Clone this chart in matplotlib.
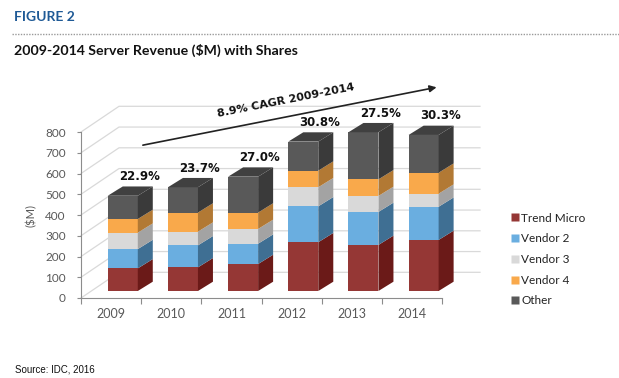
import matplotlib
matplotlib.use("Agg")
import matplotlib.pyplot as plt
from matplotlib.patches import Polygon, Rectangle
from matplotlib.lines import Line2D

# === datos ===
years = ['2009', '2010', '2011', '2012', '2013', '2014']
trend_micro = [109, 114, 130, 235, 222, 246]
vendor2 = [93, 106, 98, 173, 159, 160]
vendor3 = [79, 66, 71, 92, 77, 63]
vendor4 = [66, 92, 79, 80, 80, 101]
other = [112, 122, 173, 140, 227, 182]
shares = ['22.9%', '23.7%', '27.0%', '30.8%', '27.5%', '30.3%']
cagr_label = '8.9% CAGR 2009-2014'
yticks = [0, 100, 200, 300, 400, 500, 600, 700, 800]

series = [
    ('Trend Micro', trend_micro, '#953735', '#6b1a18'),
    ('Vendor 2', vendor2, '#6aaee0', '#3f6f93'),
    ('Vendor 3', vendor3, '#d9d9d9', '#a3a3a3'),
    ('Vendor 4', vendor4, '#f9a94b', '#b27934'),
    ('Other', other, '#595959', '#3a3a3a'),
]

W, H = 619, 378
fig = plt.figure(figsize=(W / 100, H / 100), dpi=100)

# ejes: 0 en y=298px, 800 en y=132px, x de 81px a 442px
ax = fig.add_axes([81 / W, 1 - 298 / H, (442 - 81) / W, 166 / H])
ax.set_xlim(-0.5, 5.5)
ax.set_ylim(0, 800)

px_x = 6 / 361      # unidades de categoria por pixel
px_y = 800 / 166    # $M por pixel

# paredes / grid en perspectiva
wall_dx, wall_dy = 38 * px_x, 25.7 * px_y
right_x = -0.5 + (480 - 81) * px_x
for t in yticks:
    ax.plot([-0.5, -0.5 + wall_dx, right_x], [t, t + wall_dy, t + wall_dy],
            color='#d9d9d9', lw=0.9, clip_on=False, zorder=0)

# barras 3D
base = 7 * px_y
off = 11.7 * px_x
bw = 30 * px_x
ddx, ddy = 15 * px_x, 9.3 * px_y
for i in range(len(years)):
    x0 = i + off - bw / 2
    x1 = x0 + bw
    bottom = base
    for name, vals, c_front, c_side in series:
        top = bottom + vals[i]
        ax.add_patch(Rectangle((x0, bottom), bw, vals[i], facecolor=c_front,
                               edgecolor='none', zorder=3, clip_on=False))
        ax.add_patch(Polygon([(x1, bottom), (x1 + ddx, bottom + ddy),
                              (x1 + ddx, top + ddy), (x1, top)],
                             facecolor=c_side, edgecolor='none', zorder=3, clip_on=False))
        bottom = top
    ax.add_patch(Polygon([(x0, bottom), (x1, bottom), (x1 + ddx, bottom + ddy),
                          (x0 + ddx, bottom + ddy)],
                         facecolor='#404040', edgecolor='none', zorder=3, clip_on=False))
    ax.text(i + 28.5 * px_x, bottom + 19 * px_y, shares[i], ha='center', va='center',
            fontsize=8.5, fontweight='bold', color='#111111', clip_on=False)

# flecha CAGR
ax.annotate('', xy=(5.455, 1018), xytext=(0.483, 734),
            arrowprops=dict(arrowstyle='-|>', color='#222222', lw=1.2,
                            mutation_scale=10), annotation_clip=False)
ax.text(2.9, 954, cagr_label, rotation=11.2, ha='center', va='center',
        fontsize=8, fontweight='bold', color='#111111', rotation_mode='anchor')

# ejes
for s in ['top', 'right']:
    ax.spines[s].set_visible(False)
ax.spines['left'].set_color('#8c8c8c')
ax.spines['bottom'].set_color('#8c8c8c')
ax.set_yticks(yticks)
ax.set_yticklabels([str(t) for t in yticks], fontsize=8.5, color='#595959', family='Lato')
ax.tick_params(axis='y', length=3, color='#8c8c8c', pad=8)
ax.set_xticks([i - 0.5 for i in range(len(years) + 1)], minor=False)
ax.set_xticklabels([])
ax.tick_params(axis='x', length=4, color='#8c8c8c')
for i, y in enumerate(years):
    ax.text(i, -75, y, ha='center', va='center', fontsize=9, color='#595959',
            family='Lato', clip_on=False)
ax.patch.set_visible(False)

fig.text(31 / W, 1 - 215 / H, '($M)', rotation=90, ha='center', va='center',
         fontsize=8, color='#595959', family='Lato')

# leyenda
handles = [Line2D([], [], marker='s', linestyle='none', markersize=6,
                  markerfacecolor=c, markeredgecolor='none') for _, _, c, _ in series]
fig.legend(handles, [s[0] for s in series], loc='upper left',
           bbox_to_anchor=(500 / W, 1 - 202 / H), frameon=False,
           prop={'family': 'Lato', 'size': 8.5}, labelspacing=0.82,
           handlelength=0.8, handletextpad=0.1, labelcolor='#222222')

# titulos
fig.text(14 / W, 1 - 17 / H, 'FIGURE 2', ha='left', va='center', fontsize=10,
         fontweight='bold', color='#1f5a96', family='Lato')
fig.add_artist(Line2D([12 / W, 1.0], [1 - 34 / H, 1 - 34 / H], color='#9a9a9a',
                      lw=1, linestyle=(0, (1, 1))))
fig.text(14 / W, 1 - 50 / H, '2009-2014 Server Revenue ($M) with Shares', ha='left',
         va='center', fontsize=10.2, fontweight='bold', color='#111111', family='Lato')
fig.text(15 / W, 1 - 369 / H, 'Source: IDC, 2016', ha='left', va='center',
         fontsize=7, color='#111111', family='Liberation Sans')

fig.savefig('out.png', dpi=100)
